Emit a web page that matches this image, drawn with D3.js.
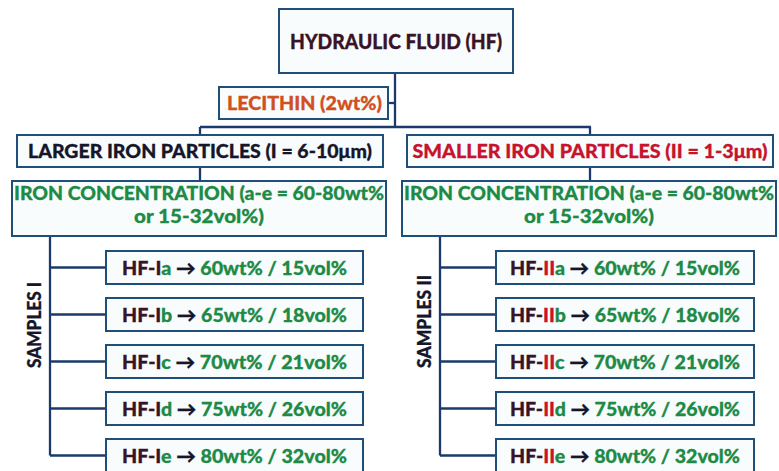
<!DOCTYPE html>
<html>
<head>
<meta charset="utf-8">
<script src="https://cdn.jsdelivr.net/npm/d3@7"></script>
<style>
  html, body { margin: 0; padding: 0; background: #ffffff; }
  svg { display: block; }
  text { font-family: Lato, "Open Sans", "Noto Sans", sans-serif; font-weight: 900; }
</style>
</head>
<body>
<svg id="chart" width="779" height="471"></svg>
<script>
// ---- data ----
const rootLabel = "HYDRAULIC FLUID (HF)";
const additiveLabel = "LECITHIN (2wt%)";
const groups = ["I", "II"];
const particleLabels = ["LARGER IRON PARTICLES (I = 6-10\u03bcm)", "SMALLER IRON PARTICLES (II = 1-3\u03bcm)"];
const concLines = ["IRON CONCENTRATION (a-e = 60-80wt%", "or 15-32vol%)"];
const sampleAxisLabels = ["SAMPLES I", "SAMPLES II"];
const sampleLetters = ["a", "b", "c", "d", "e"];
const wtValues = [60, 65, 70, 75, 80];
const volValues = [15, 18, 21, 26, 32];

// ---- styles ----
const C = {
  box: "#1f4e79", line: "#1b3a6b", fill: "#f8fcfd",
  dark: "#3a1426", ink: "#16162a", green: "#1d8a45", red: "#c8132c", orange: "#d0511e"
};

const svg = d3.select("#chart");
svg.append("rect").attr("width", 779).attr("height", 471).attr("fill", "#ffffff");

const col = d3.scalePoint().domain(groups).range([0, 390]);
const row = d3.scaleBand().domain(sampleLetters).range([251, 472]).paddingInner(14 / 47).paddingOuter(0);

const gLines = svg.append("g").attr("fill", "none").attr("stroke", C.line).attr("stroke-width", 2.3);
const gBoxes = svg.append("g");
const gText = svg.append("g");

function box(x, y, w, h) {
  gBoxes.append("rect").attr("x", x).attr("y", y).attr("width", w).attr("height", h)
    .attr("fill", C.fill).attr("stroke", C.box).attr("stroke-width", 2);
}
function line(pts) {
  gLines.append("path").attr("d", d3.line()(pts));
}
function label(x, y, len, parts, size) {
  const t = gText.append("text").attr("x", x).attr("y", y).attr("text-anchor", "middle")
    .attr("font-size", size || 19.5).attr("textLength", len).attr("lengthAdjust", "spacingAndGlyphs");
  parts.forEach(p => t.append("tspan").attr("fill", p[1]).attr("stroke", p[1]).attr("stroke-width", 0.3).text(p[0]));
  return t;
}

// root
box(279, 9, 234, 64);
label(396, 49, 212, [[rootLabel, C.dark]], 20);
// trunk
line([[395, 73], [395, 127]]);
line([[200, 127], [591, 127]]);
// lecithin
box(219, 87, 169, 32);
label(304.5, 110, 155, [[additiveLabel, C.orange]]);
line([[388, 103], [395, 103]]);

groups.forEach((g, gi) => {
  const dx = col(g);
  const cx = 200 + dx;
  // particle box
  line([[cx, 127], [cx, 135]]);
  box(17 + dx, 135, 366, 32);
  const pText = gi === 0 ? [[particleLabels[0], C.ink]] : [[particleLabels[1], C.red]];
  label(cx, 158, gi === 0 ? 344 : 355, pText);
  // concentration box
  line([[cx, 167], [cx, 181]]);
  box(12 + dx, 181, 374, 55);
  label(199 + dx, 200, 370, [[concLines[0], C.green]]);
  label(199 + dx, 223, 130, [[concLines[1], C.green]]);
  // samples
  const vx = 50 + dx;
  const lastY = row(sampleLetters[sampleLetters.length - 1]) + row.bandwidth() / 2;
  line([[vx, 236], [vx, lastY]]);
  gText.append("text")
    .attr("transform", `translate(${41 + dx},${368}) rotate(-90)`)
    .attr("text-anchor", "start").attr("font-size", 18.5).attr("fill", C.ink)
    .attr("stroke", C.ink).attr("stroke-width", 0.3)
    .attr("textLength", gi === 0 ? 86 : 93).attr("lengthAdjust", "spacingAndGlyphs")
    .text(sampleAxisLabels[gi]);
  sampleLetters.forEach((s, i) => {
    const y = row(s);
    const cy = y + row.bandwidth() / 2;
    line([[vx, cy], [106 + dx, cy]]);
    box(106 + dx, y, 257 + gi, row.bandwidth());
    label(234.5 + dx + gi * 0.5, cy + 7, gi === 0 ? 225 : 230, [
      ["HF-", C.dark], [g, gi === 0 ? C.dark : C.red], [s, C.green],
      [" \u2192 ", C.ink], [`${wtValues[i]}wt% / ${volValues[i]}vol%`, C.green]
    ]);
  });
});
</script>
</body>
</html>
